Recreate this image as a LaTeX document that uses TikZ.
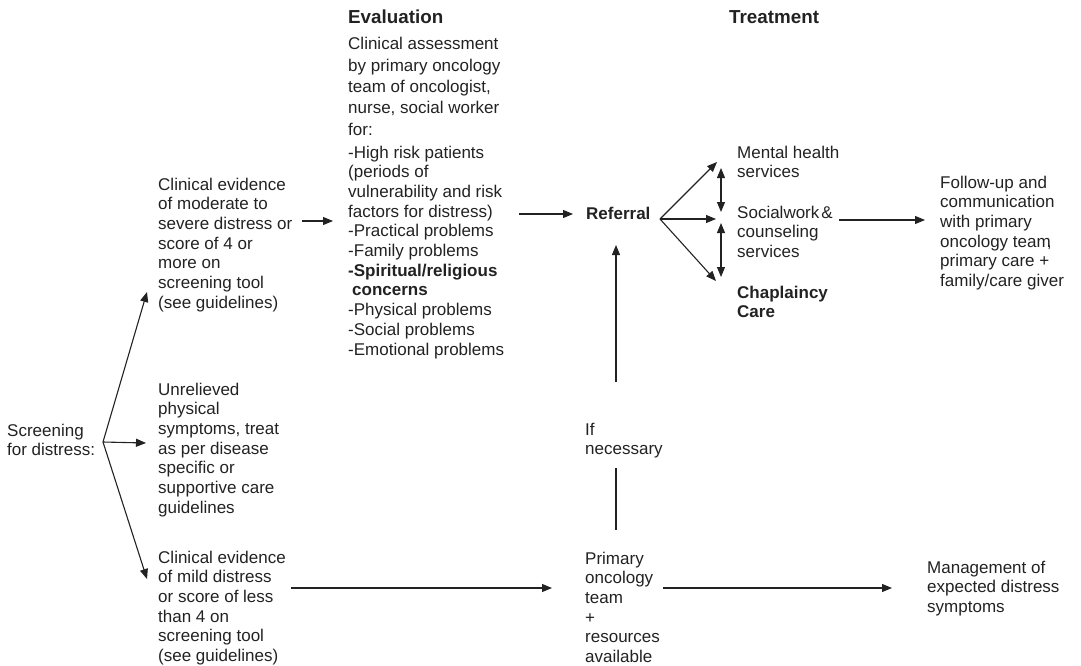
\documentclass[tikz,border=0pt]{standalone}
\usepackage{fontspec}
\setmainfont{Liberation Sans}
\usetikzlibrary{arrows.meta}
\definecolor{ink}{HTML}{222222}
\begin{document}
\begin{tikzpicture}[x=1pt,y=-1pt,
  txt/.style={anchor=base west,inner sep=0pt,align=left,text=ink,
    font=\fontsize{17}{19.7}\selectfont},
  txtw/.style={txt,font=\fontsize{17}{21.3}\selectfont},
  hdr/.style={txt,font=\fontsize{17}{19.7}\selectfont\bfseries},
  bighdr/.style={txt,font=\fontsize{18.8}{21}\selectfont\bfseries},
  arr/.style={draw=ink,line width=1.1pt,-{Triangle[length=10pt,width=8pt]}},
  darr/.style={draw=ink,line width=1.1pt,{Triangle[length=10pt,width=8pt]}-{Triangle[length=10pt,width=8pt]}},
  ln/.style={draw=ink,line width=1.1pt}]
\useasboundingbox (0,0) rectangle (1081,666);

% left column (anchor = baseline of the last line)
\node[txt] (scr) at (7,455.7) {Screening\\for distress:};
\node[txt] (mod) at (158,308.2) {Clinical evidence\\of moderate to\\severe distress or\\score of 4 or\\more on\\screening tool\\(see guidelines)};
\node[txt] (unr) at (158,513.2) {Unrelieved\\physical\\symptoms, treat\\as per disease\\specific or\\supportive care\\guidelines};
\node[txt] (mild) at (158,661.5) {Clinical evidence\\of mild distress\\or score of less\\than 4 on\\screening tool\\(see guidelines)};

% evaluation column
\node[bighdr] (evh) at (348,23.5) {Evaluation};
\node[txtw] (ass) at (348,135.2) {Clinical assessment\\by primary oncology\\team of oncologist,\\nurse, social worker\\for:};
\node[txt] (list) at (348,355) {-High risk patients\\(periods of\\vulnerability and risk\\factors for distress)\\-Practical problems\\-Family problems\\\textbf{-Spiritual/religious}\\\hspace*{4pt}\textbf{concerns}\\-Physical problems\\-Social problems\\-Emotional problems};

\node[hdr] (ref) at (586,219) {Referral};
\node[txt] (ifn) at (585,454.7) {If\\necessary};
\node[txt] (prim) at (585,662.5) {Primary\\oncology\\team\\+\\resources\\available};

% treatment column
\node[bighdr] (trh) at (729,23.5) {Treatment};
\node[txt] (ment) at (737,177.7) {Mental health\\services};
\node[txt] (soc) at (737,257.4) {Socialwork\kern2pt\&\\counseling\\services};
\node[hdr] (chap) at (737,317.7) {Chaplaincy\\Care};

\node[txt] (fol) at (940,286.5) {Follow-up and\\communication\\with primary\\oncology team\kern-4pt,\\primary care +\\family/care giver};
\node[txt] (man) at (927,612.4) {Management of\\expected distress\\symptoms};

% coordinates
\coordinate (o) at (103,442);
\coordinate (t1) at (147,292);
\coordinate (t2) at (146,443);
\coordinate (t3) at (147,579);
\coordinate (e1) at (302,221);
\coordinate (e2) at (333,221);
\coordinate (r1) at (519,214);
\coordinate (r2) at (573,214);
\coordinate (fo) at (660,219);
\coordinate (f1) at (717,162);
\coordinate (f2) at (716,219);
\coordinate (f3) at (716,281);
\coordinate (d1) at (721,168);
\coordinate (d2) at (721,212);
\coordinate (d3) at (721,223);
\coordinate (d4) at (721,277);
\coordinate (s1) at (839,220);
\coordinate (s2) at (925,220);
\coordinate (u1) at (616,382);
\coordinate (u2) at (616,245);
\coordinate (n1) at (616,468);
\coordinate (n2) at (616,530);
\coordinate (b1) at (291,588);
\coordinate (b2) at (552,588);
\coordinate (p1) at (663,588);
\coordinate (p2) at (892,588);

\draw[arr] (o) -- (t1);
\draw[arr] (o) -- (t2);
\draw[arr] (o) -- (t3);
\draw[arr] (e1) -- (e2);
\draw[arr] (r1) -- (r2);
\draw[arr] (fo) -- (f1);
\draw[arr] (fo) -- (f2);
\draw[arr] (fo) -- (f3);
\draw[darr] (d1) -- (d2);
\draw[darr] (d3) -- (d4);
\draw[arr] (s1) -- (s2);
\draw[arr] (u1) -- (u2);
\draw[ln] (n1) -- (n2);
\draw[arr] (b1) -- (b2);
\draw[arr] (p1) -- (p2);
\end{tikzpicture}
\end{document}
